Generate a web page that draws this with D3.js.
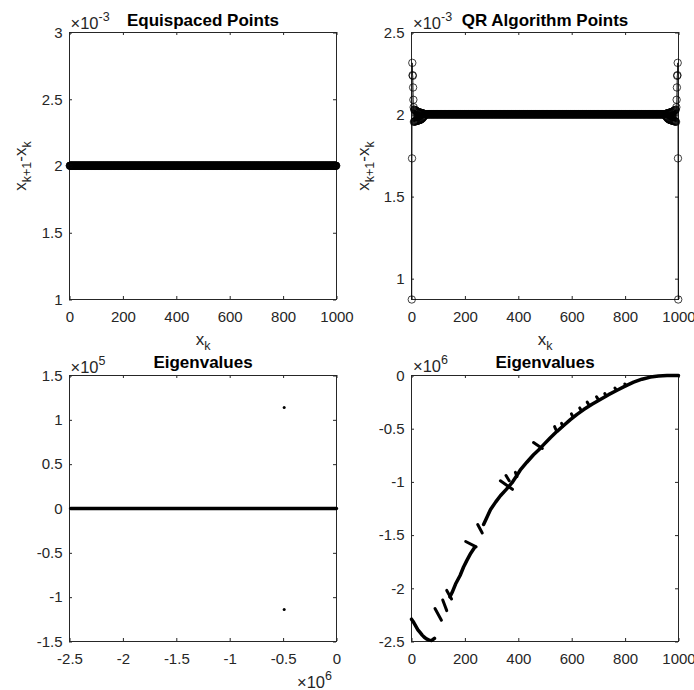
<!DOCTYPE html>
<html lang="en">
<head>
<meta charset="utf-8">
<title>Point spacing and eigenvalues</title>
<script src="https://cdn.jsdelivr.net/npm/d3@7"></script>
<style>
    body { margin: 0; background: #fff; }
    svg { display: block; font-family: "Liberation Sans", Arial, Helvetica, sans-serif; }
</style>
</head>
<body>
<svg width="694" height="690"></svg>
<script>
    // ---- data ----
    // index k of x_k (999 gaps between 1000 points)
    const kIndex = d3.range(1, 1000);
    // equispaced gap x_{k+1}-x_k, in units of 1e-3
    const eqGap = 2.002;
    // QR points: gaps at the start of the list (the end is the mirror image)
    const qrHead = [0.873, 1.733, 2.315, 2.240, 2.236, 2.165, 2.090, 2.045, 1.955, 2.030,
        1.957, 2.028, 1.958, 2.026, 1.960, 2.024, 1.960, 2.022, 1.961, 2.020,
        1.962, 2.018, 1.963, 2.016, 1.964, 2.015, 1.965, 2.014, 1.966, 2.013,
        1.967, 2.012, 1.968, 2.011, 1.970, 2.010, 1.972, 2.009, 1.975, 2.008,
        1.978, 2.007, 1.982, 2.006, 1.986, 2.005, 1.990, 2.004, 1.994, 2.003];
    const qrMid = 2.002;

    // eigenvalues (real part, 1e6) against index; null = gap in the dotted curve
    const eigK = [0, 8, 16, 24, 32, 40, 48, 56, 66, 76, 86, null,
        144, 152, 165, 182, 195, 207, 222, 238, null,
        270, 283, 296, 315, 333, 355, 376, 392, 407, 432, 457, 476, 495, 520, 545, 570,
        595, 620, 645, 676, 707, 738, 770, 800, 832, 863, 895, 925, 957, 1000];
    const eigV = [-2.29, -2.32, -2.355, -2.39, -2.415, -2.44, -2.46, -2.475, -2.487, -2.49, -2.47, null,
        -2.08, -2.04, -1.96, -1.88, -1.80, -1.74, -1.67, -1.61, null,
        -1.40, -1.33, -1.26, -1.19, -1.13, -1.07, -1.01, -0.95, -0.89, -0.815, -0.745, -0.70, -0.65, -0.585, -0.525, -0.47,
        -0.415, -0.365, -0.32, -0.27, -0.226, -0.18, -0.139, -0.10, -0.063, -0.035, -0.015, -0.005, -0.001, 0];
    // short runs of eigenvalues that come out in reverse order [k0, v0, k1, v1]
    const eigJags = [
        [88, -2.19, 112, -2.30], [117, -2.11, 132, -2.21], [132, -2.02, 150, -2.10],
        [203, -1.56, 242, -1.61], [248, -1.40, 265, -1.48],
        [333, -0.99, 378, -1.07], [354, -0.94, 366, -0.99], [389, -0.91, 395, -0.95],
        [457, -0.63, 490, -0.685],
        [536, -0.48, 541, -0.51], [562, -0.45, 567, -0.475], [599, -0.36, 604, -0.385],
        [630, -0.305, 635, -0.325], [658, -0.25, 663, -0.27], [693, -0.20, 698, -0.22],
        [724, -0.17, 729, -0.19], [762, -0.118, 767, -0.135], [799, -0.08, 804, -0.095]
    ];
    // complex pair (real 1e6, imag 1e5)
    const cplxRe = [-0.49, -0.49];
    const cplxIm = [1.14, -1.14];

    // tick values
    const kTicks = [0, 200, 400, 600, 800, 1000];
    const eqYTicks = [1, 1.5, 2, 2.5, 3];
    const qrYTicks = [1, 1.5, 2, 2.5];
    const reTicks = [-2.5, -2, -1.5, -1, -0.5, 0];
    const imTicks = [-1.5, -1, -0.5, 0, 0.5, 1, 1.5];
    const eigYTicks = [-2.5, -2, -1.5, -1, -0.5, 0];

    // ---- drawing ----
    const axisColor = "#262626";
    const svg = d3.select("svg");

    const qrGap = kIndex.map(function (k, i) {
        if (i < qrHead.length) return qrHead[i];
        if (i >= kIndex.length - qrHead.length) return qrHead[kIndex.length - 1 - i];
        return qrMid;
    });

    function makePanel(o) {
        const x = d3.scaleLinear().domain(o.xDomain).range([o.left, o.left + o.width]);
        const y = d3.scaleLinear().domain(o.yDomain).range([o.top + o.height, o.top]);
        const g = svg.append("g");
        const fmt = d => String(d);

        function style(a) {
            a.select(".domain").remove();
            a.attr("color", axisColor)
                .attr("font-size", 15)
                .attr("font-family", null);
        }

        g.append("g").attr("transform", "translate(0," + (o.top + o.height - 0.5) + ")")
            .call(d3.axisBottom(x).tickValues(o.xTicks).tickFormat(fmt)
                .tickSizeInner(-3).tickSizeOuter(0).tickPadding(12))
            .call(style);
        g.append("g").attr("transform", "translate(0," + (o.top - 0.5) + ")")
            .call(d3.axisTop(x).tickValues(o.xTicks).tickFormat("")
                .tickSizeInner(-3).tickSizeOuter(0))
            .call(style);
        g.append("g").attr("transform", "translate(" + (o.left - 0.5) + ",0)")
            .call(d3.axisLeft(y).tickValues(o.yTicks).tickFormat(fmt)
                .tickSizeInner(-3).tickSizeOuter(0).tickPadding(6.5))
            .call(style);
        g.append("g").attr("transform", "translate(" + (o.left + o.width - 0.5) + ",0)")
            .call(d3.axisRight(y).tickValues(o.yTicks).tickFormat("")
                .tickSizeInner(-3).tickSizeOuter(0))
            .call(style);

        g.append("rect")
            .attr("x", o.left).attr("y", o.top)
            .attr("width", o.width).attr("height", o.height)
            .attr("fill", "none").attr("stroke", axisColor).attr("stroke-width", 1);

        // title
        g.append("text")
            .attr("x", o.left + o.width / 2).attr("y", o.titleY)
            .attr("text-anchor", "middle")
            .attr("font-weight", "bold").attr("font-size", 17)
            .attr("fill", "#000")
            .text(o.title);

        return {g: g, x: x, y: y};
    }

    function exponent(x, y, p) {
        const t = svg.append("text").attr("x", x).attr("y", y)
            .attr("font-size", 16.5).attr("fill", axisColor);
        t.append("tspan").text("\u00d710");
        t.append("tspan").attr("font-size", 12.5).attr("dy", -8).text(p);
    }

    function xkLabel(cx) {
        const t = svg.append("text").attr("x", cx).attr("y", 345)
            .attr("text-anchor", "middle").attr("font-size", 17).attr("fill", axisColor);
        t.append("tspan").text("x");
        t.append("tspan").attr("font-size", 12.5).attr("dy", 5).text("k");
    }

    function gapLabel(x, cy) {
        const t = svg.append("text")
            .attr("transform", "translate(" + x + "," + cy + ") rotate(-90)")
            .attr("text-anchor", "middle").attr("font-size", 17).attr("fill", axisColor);
        t.append("tspan").text("x");
        t.append("tspan").attr("font-size", 12.5).attr("dy", 5).text("k+1");
        t.append("tspan").attr("dy", -5).text("-x");
        t.append("tspan").attr("font-size", 12.5).attr("dy", 5).text("k");
    }

    function spacingMarks(p, vals) {
        const line = d3.line().x((d, i) => p.x(kIndex[i])).y(d => p.y(d));
        p.g.append("path").datum(vals)
            .attr("d", line)
            .attr("fill", "none").attr("stroke", "#000").attr("stroke-width", 0.7);
        p.g.append("g").selectAll("circle")
            .data(vals)
            .join("circle")
            .attr("cx", (d, i) => p.x(kIndex[i]))
            .attr("cy", d => p.y(d))
            .attr("r", 3.7)
            .attr("fill", "none").attr("stroke", "#000").attr("stroke-width", 0.75);
    }

    // top left: equispaced
    const tl = makePanel({
        left: 69.5, top: 32.5, width: 267, height: 267,
        xDomain: [0, 1000], yDomain: [1, 3],
        xTicks: kTicks, yTicks: eqYTicks,
        title: "Equispaced Points", titleY: 26
    });
    spacingMarks(tl, kIndex.map(() => eqGap));
    exponent(70.5, 29, "-3");
    xkLabel(203);
    gapLabel(26, 166);

    // top right: QR algorithm
    const tr = makePanel({
        left: 411.5, top: 32.5, width: 267, height: 267,
        xDomain: [0, 1000], yDomain: [0.873, 2.5],
        xTicks: kTicks, yTicks: qrYTicks,
        title: "QR Algorithm Points", titleY: 26
    });
    spacingMarks(tr, qrGap);
    exponent(413, 29, "-3");
    xkLabel(545);
    gapLabel(368.5, 166);

    // bottom left: eigenvalues in the complex plane
    const bl = makePanel({
        left: 69.5, top: 375.5, width: 267, height: 266,
        xDomain: [-2.5, 0], yDomain: [-1.5, 1.5],
        xTicks: reTicks, yTicks: imTicks,
        title: "Eigenvalues", titleY: 367.5
    });
    const realVals = eigV.filter(v => v !== null)
        .concat(eigJags.map(d => d[1]), eigJags.map(d => d[3]));
    bl.g.append("line")
        .attr("x1", bl.x(d3.min(realVals))).attr("x2", bl.x(d3.max(realVals)))
        .attr("y1", bl.y(0)).attr("y2", bl.y(0))
        .attr("stroke", "#000").attr("stroke-width", 3.3).attr("stroke-linecap", "round");
    bl.g.append("g").selectAll("circle")
        .data(cplxRe)
        .join("circle")
        .attr("cx", d => bl.x(d))
        .attr("cy", (d, i) => bl.y(cplxIm[i]))
        .attr("r", 1.5).attr("fill", "#000");
    exponent(70.5, 373, "5");
    exponent(297, 688, "6");

    // bottom right: eigenvalues against index
    const br = makePanel({
        left: 411.5, top: 375.5, width: 267, height: 266,
        xDomain: [0, 1000], yDomain: [-2.5, 0],
        xTicks: kTicks, yTicks: eigYTicks,
        title: "Eigenvalues", titleY: 367.5
    });
    const eigLine = d3.line()
        .defined((d, i) => eigK[i] !== null)
        .x((d, i) => br.x(eigK[i]))
        .y(d => br.y(d));
    br.g.append("path").datum(eigV)
        .attr("d", eigLine)
        .attr("fill", "none").attr("stroke", "#000").attr("stroke-width", 3.5)
        .attr("stroke-linecap", "round").attr("stroke-linejoin", "round");
    br.g.append("g").selectAll("line")
        .data(eigJags)
        .join("line")
        .attr("x1", d => br.x(d[0])).attr("y1", d => br.y(d[1]))
        .attr("x2", d => br.x(d[2])).attr("y2", d => br.y(d[3]))
        .attr("stroke", "#000").attr("stroke-width", 3).attr("stroke-linecap", "round");
    exponent(413, 371.5, "6");
</script>
</body>
</html>
